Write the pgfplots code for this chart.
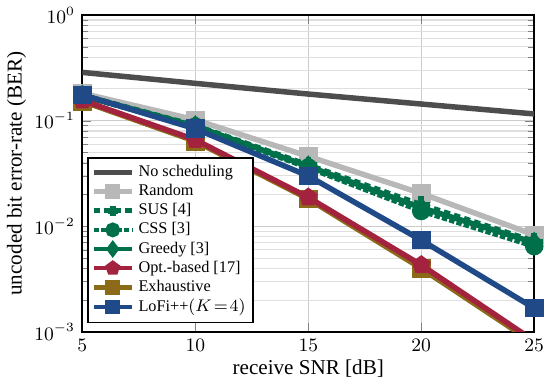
\documentclass[border=0pt]{standalone}
\usepackage{fontspec}
\setmainfont{Liberation Serif}
\usepackage{pgfplots}
\pgfplotsset{compat=1.18}
\definecolor{cNo}{HTML}{4D4D4D}
\definecolor{cRand}{HTML}{B8B8B8}
\definecolor{cGreen}{HTML}{00704A}
\definecolor{cRed}{HTML}{A3233F}
\definecolor{cOlive}{HTML}{8B6B18}
\definecolor{cBlue}{HTML}{1F4A87}
\begin{document}
\begin{tikzpicture}
\begin{axis}[
  scale only axis,
  width=214pt, height=150pt,
  ymode=log,
  xmin=5, xmax=25, ymin=1e-3, ymax=1,
  xtick={5,10,15,20,25},
  grid=both,
  major grid style={gray!40, line width=0.5pt},
  minor grid style={gray!25, line width=0.5pt},
  axis line style={line width=0.8pt},
  tick label style={font=\small},
  xlabel={receive SNR [dB]},
  ylabel={uncoded bit error-rate (BER)},
  xlabel style={yshift=3pt},
  ylabel style={yshift=-3pt},
  clip mode=individual,
  legend style={at={(0.011,0.028)}, anchor=south west, draw=black, line width=0.7pt,
     font=\fontsize{7.7}{8}\selectfont, row sep=-1.8pt, inner sep=1.5pt, fill=white},
  legend cell align=left,
  every axis plot/.append style={line width=2.6pt, mark size=3.1pt},
  legend image code/.code={
    \draw[mark repeat=2,mark phase=2, line width=2.2pt, mark size=2.4pt] plot coordinates {(0cm,0cm) (0.32cm,0cm) (0.64cm,0cm)};
  },
]
\addplot[cNo, no marks] coordinates {(5,0.287) (10,0.226) (15,0.179) (20,0.144) (25,0.116)};
\addlegendentry{No scheduling}
\addplot[cRand, mark=square*] coordinates {(5,0.182) (10,0.102) (15,0.046) (20,0.0205) (25,0.0083)};
\addlegendentry{Random}
\addplot[cGreen, densely dashed, mark=+, mark options={solid, line width=2.6pt}, mark size=4pt] coordinates {(5,0.174) (10,0.090) (15,0.038) (20,0.0160) (25,0.0072)};
\addlegendentry{SUS [4]}
\addplot[cGreen, densely dotted, mark=*, mark options={solid}] coordinates {(5,0.172) (10,0.088) (15,0.036) (20,0.0140) (25,0.0065)};
\addlegendentry{CSS [3]}
\addplot[cGreen, mark=diamond*] coordinates {(5,0.173) (10,0.089) (15,0.037) (20,0.0150) (25,0.0070)};
\addlegendentry{Greedy [3]}
\addplot[cOlive, mark=square*, forget plot] coordinates {(5,0.153) (10,0.064) (15,0.0182) (20,0.0040) (25,0.00078)};
\addplot[cRed, mark=pentagon*] coordinates {(5,0.156) (10,0.066) (15,0.0188) (20,0.0043) (25,0.00082)};
\addlegendentry{Opt.-based [17]}
\addlegendimage{cOlive, mark=square*}
\addlegendentry{Exhaustive}
\addplot[cBlue, mark=square*] coordinates {(5,0.176) (10,0.084) (15,0.030) (20,0.0074) (25,0.00168)};
\addlegendentry{LoFi++$(K\!=\!4)$}
\end{axis}
\end{tikzpicture}
\end{document}
